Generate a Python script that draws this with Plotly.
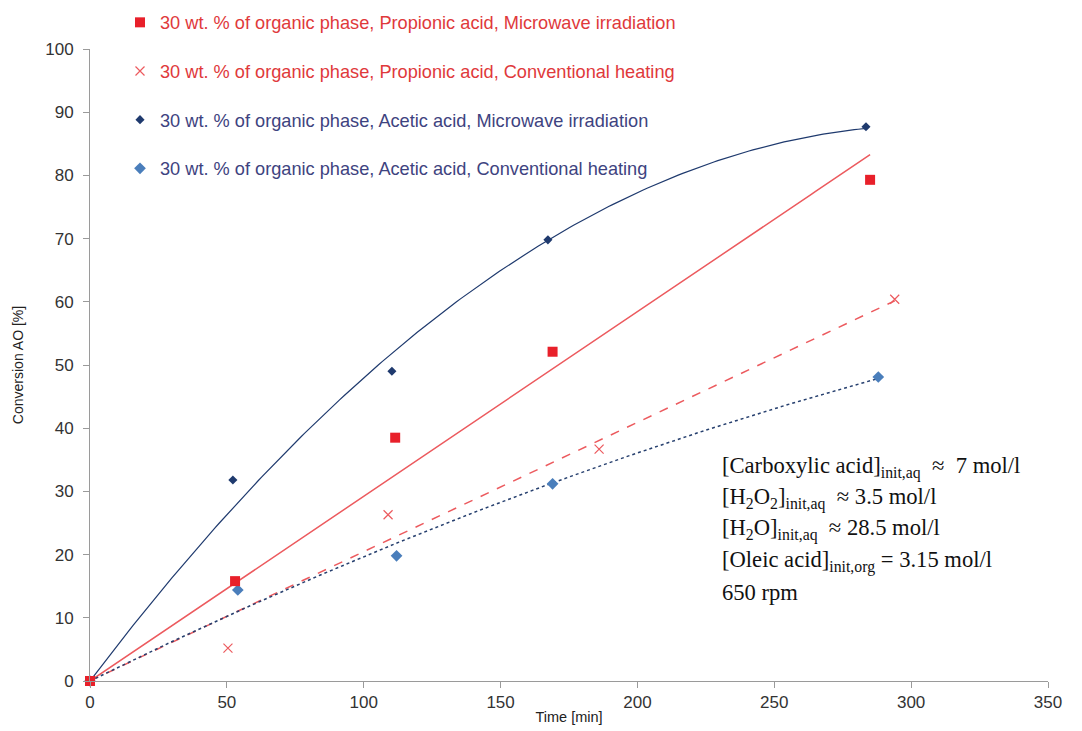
import numpy as np
import plotly.graph_objects as go

# Data
prop_mw_t = [0, 53, 111.5, 169, 285]
prop_mw_y = [0, 15.8, 38.5, 52.1, 79.3]
prop_cv_t = [0, 50.4, 108.9, 186, 294]
prop_cv_y = [0, 5.2, 26.3, 36.7, 60.4]
acet_mw_t = [0, 52.2, 110.3, 167.3, 283.5]
acet_mw_y = [0, 31.8, 49.0, 69.8, 87.7]
acet_cv_t = [0, 54, 112, 169, 288]
acet_cv_y = [0, 14.4, 19.8, 31.2, 48.1]

names = [
    "30 wt. % of organic phase, Propionic acid, Microwave irradiation",
    "30 wt. % of organic phase, Propionic acid, Conventional heating",
    "30 wt. % of organic phase, Acetic acid, Microwave irradiation",
    "30 wt. % of organic phase, Acetic acid, Conventional heating",
]

info_lines = [
    "[Carboxylic acid]<sub>init,aq</sub>  ≈  7 mol/l",
    "[H<sub>2</sub>O<sub>2</sub>]<sub>init,aq</sub>  ≈ 3.5 mol/l",
    "[H<sub>2</sub>O]<sub>init,aq</sub>  ≈ 28.5 mol/l",
    "[Oleic acid]<sub>init,org</sub> = 3.15 mol/l",
    "650 rpm",
]

RED = "#E8202A"
RED_TXT = "#E0393B"
RED_LINE = "#EC5A5E"
NAVY = "#1F3A6E"
STEEL = "#4A7EBB"
BLUE_TXT = "#3E4380"

W, H = 1082, 731
ML, MR, MT, MB = 90, 34, 49, 50
PW = W - ML - MR
PH = H - MT - MB


def fit_origin(t, y, order):
    t = np.asarray(t, float)
    y = np.asarray(y, float)
    A = np.column_stack([t ** k for k in range(1, order + 1)])
    coef, *_ = np.linalg.lstsq(A, y, rcond=None)
    tt = np.linspace(0, t.max(), 200)
    yy = sum(c * tt ** (k + 1) for k, c in enumerate(coef))
    return tt, yy


fig = go.Figure()

# trend lines
tt, yy = fit_origin(prop_mw_t, prop_mw_y, 1)
fig.add_trace(go.Scatter(x=tt, y=yy, mode="lines", line=dict(color=RED_LINE, width=1.5),
                         showlegend=False, hoverinfo="skip"))
tt, yy = fit_origin(prop_cv_t, prop_cv_y, 1)
fig.add_trace(go.Scatter(x=tt, y=yy, mode="lines", line=dict(color=RED_LINE, width=1.5, dash="dash"),
                         showlegend=False, hoverinfo="skip"))
tt, yy = fit_origin(acet_mw_t, acet_mw_y, 2)
fig.add_trace(go.Scatter(x=tt, y=yy, mode="lines", line=dict(color=NAVY, width=1.2),
                         showlegend=False, hoverinfo="skip"))
tt, yy = fit_origin(acet_cv_t, acet_cv_y, 2)
fig.add_trace(go.Scatter(x=tt, y=yy, mode="lines", line=dict(color="#27406F", width=1.5, dash="dot"),
                         showlegend=False, hoverinfo="skip"))

# markers
fig.add_trace(go.Scatter(x=acet_cv_t, y=acet_cv_y, mode="markers", name=f"<span style='color:{BLUE_TXT}'>{names[3]}</span>",
                         marker=dict(symbol="diamond", size=9, color=STEEL), cliponaxis=False,
                         legendgroup="d", legendrank=4))
fig.add_trace(go.Scatter(x=acet_mw_t, y=acet_mw_y, mode="markers", name=f"<span style='color:{BLUE_TXT}'>{names[2]}</span>",
                         marker=dict(symbol="diamond", size=7, color=NAVY), cliponaxis=False,
                         legendgroup="c", legendrank=3))
fig.add_trace(go.Scatter(x=prop_cv_t, y=prop_cv_y, mode="markers", name=f"<span style='color:{RED_TXT}'>{names[1]}</span>",
                         marker=dict(symbol="x-thin", size=9, line=dict(color=RED_LINE, width=1.2), color=RED_LINE),
                         cliponaxis=False, legendgroup="b", legendrank=2))
fig.add_trace(go.Scatter(x=prop_mw_t, y=prop_mw_y, mode="markers", name=f"<span style='color:{RED_TXT}'>{names[0]}</span>",
                         marker=dict(symbol="square", size=10, color=RED), cliponaxis=False,
                         legendgroup="a", legendrank=1))

axis_common = dict(showline=True, linecolor="#9a9a9a", linewidth=1, showgrid=False, zeroline=False,
                   ticks="outside", ticklen=6, tickcolor="#9a9a9a", automargin=False,
                   tickfont=dict(family="Liberation Sans, Arial", size=17, color="#333333"))

fig.update_xaxes(range=[0, 350], dtick=50, **axis_common,
                 title=dict(text="Time [min]", font=dict(family="Liberation Sans, Arial", size=14.5, color="#222"), standoff=0))
fig.update_yaxes(range=[0, 100], dtick=10, ticklabelstandoff=6, **axis_common,
                 title=dict(text="Conversion AO [%]", font=dict(family="Liberation Sans, Arial", size=14, color="#222"), standoff=18))

line_centers_px = [467, 498, 529, 561, 592]
for txt, yc in zip(info_lines, line_centers_px):
    fig.add_annotation(xref="paper", yref="paper", x=(720 - ML) / PW, y=(H - MB - yc) / PH,
                       xanchor="left", yanchor="middle", text=txt, showarrow=False, align="left",
                       font=dict(family="Liberation Serif, Times New Roman", size=22.6, color="#111"))

fig.update_layout(
    width=W, height=H,
    margin=dict(l=ML, r=MR, t=MT, b=MB, autoexpand=False),
    paper_bgcolor="white", plot_bgcolor="white",
    legend=dict(x=(120 - ML) / PW, y=(H - MB - 4) / PH, xanchor="left", yanchor="top",
                tracegroupgap=22,
                font=dict(family="Liberation Sans, Arial", size=18.2), bgcolor="rgba(0,0,0,0)",
                itemwidth=30),
    showlegend=True,
)

fig.write_html("out.html", post_script="document.body.style.margin='0';",
               config={"displayModeBar": False})
